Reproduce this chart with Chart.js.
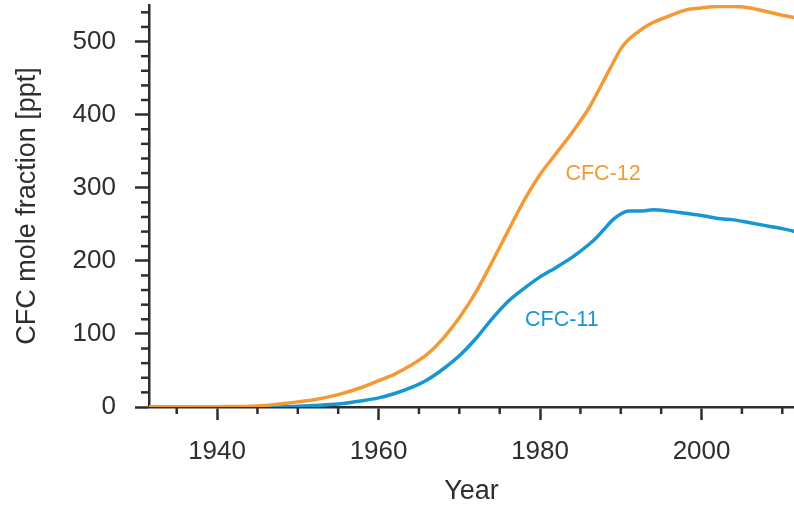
<!DOCTYPE html>
<html>
<head>
<meta charset="utf-8">
<title>CFC mole fraction</title>
<script src="https://cdn.jsdelivr.net/npm/chart.js@4.4.1/dist/chart.umd.min.js"></script>
<style>
  html, body { margin: 0; padding: 0; background: #fff; }
  #wrap { width: 794px; height: 508px; position: relative; }
</style>
</head>
<body>
<div id="wrap"><canvas id="cfcChart"></canvas></div>
<script>
// Annual mean mole fractions, ppt
const years = [1931, 1935, 1940, 1945, 1948, 1950, 1952, 1955, 1958, 1960,
  1962, 1964, 1966, 1968, 1970, 1972, 1974, 1976, 1978, 1980,
  1982, 1984, 1986, 1987, 1988, 1989, 1990, 1991, 1992, 1993,
  1994, 1996, 1998, 2000, 2002, 2004, 2006, 2008, 2010, 2012];

const cfc12 = [0, 0, 0.4, 1.5, 4.5, 7, 10, 17, 27, 36,
  45, 57, 72, 94, 122, 156, 197, 240, 282, 318,
  347, 376, 408, 428, 449, 470, 490, 503, 512, 520,
  526, 535, 543, 546, 548, 548, 546, 541, 536, 532];

const cfc11 = [0, 0, 0, 0.3, 0.6, 1, 2, 4, 8.5, 12.5,
  18.5, 26.5, 37, 52, 70, 93, 120, 144, 162, 178,
  191, 205, 222, 232, 244, 256, 264, 268, 268, 268.5,
  270, 268, 265, 262, 258, 256, 252, 248, 244, 239];

const seriesNames = ["CFC-12", "CFC-11"];
// where each series name is written, in data units [year, ppt]
const nameYears = [1987.8, 1982.7];
const nameValues = [319, 119];

const xMajor = [1940, 1960, 1980, 2000];
const yMajor = [0, 100, 200, 300, 400, 500];

const ORANGE = "rgb(243,154,52)";
const BLUE = "rgb(22,150,210)";
const INK = "#2e2e2e";
const FONT = "'Liberation Sans', Arial, Helvetica, sans-serif";

function points(values) {
  return years.map((yr, i) => ({ x: yr, y: values[i] }));
}

// short ticks for the in-between steps; long ones come from the scale itself
const minorTicks = {
  id: "minorTicks",
  afterDraw(chart) {
    const ctx = chart.ctx;
    ctx.save();
    ctx.strokeStyle = INK;
    ctx.lineWidth = 2.5;
    const xs = chart.scales.x;
    xs.ticks.forEach((t, i) => {
      if (xMajor.includes(t.value)) return;
      const px = xs.getPixelForTick(i);
      ctx.beginPath();
      ctx.moveTo(px, xs.top);
      ctx.lineTo(px, xs.top + 7);
      ctx.stroke();
    });
    const ys = chart.scales.y;
    ys.ticks.forEach((t, i) => {
      if (yMajor.includes(t.value)) return;
      const py = ys.getPixelForTick(i);
      ctx.beginPath();
      ctx.moveTo(ys.right, py);
      ctx.lineTo(ys.right - 8, py);
      ctx.stroke();
    });
    ctx.restore();
  },
};

// series names written next to their curves
const seriesLabels = {
  id: "seriesLabels",
  afterDatasetsDraw(chart) {
    const ctx = chart.ctx;
    const { x, y } = chart.scales;
    ctx.save();
    ctx.font = "21.5px " + FONT;
    ctx.textAlign = "center";
    ctx.textBaseline = "middle";
    seriesNames.forEach((name, i) => {
      ctx.fillStyle = chart.data.datasets[i].borderColor;
      ctx.fillText(name, x.getPixelForValue(nameYears[i]), y.getPixelForValue(nameValues[i]));
    });
    ctx.restore();
  },
};

new Chart(document.getElementById("cfcChart"), {
  type: "line",
  data: {
    datasets: [
      { label: seriesNames[0], data: points(cfc12), borderColor: ORANGE },
      { label: seriesNames[1], data: points(cfc11), borderColor: BLUE },
    ],
  },
  options: {
    responsive: true,
    maintainAspectRatio: false,
    animation: false,
    events: [],
    layout: { padding: { top: 5, right: 0, bottom: 0, left: 0 } },
    elements: {
      line: { borderWidth: 3.5, cubicInterpolationMode: "monotone", fill: false },
      point: { radius: 0 },
    },
    plugins: { legend: { display: false }, tooltip: { enabled: false } },
    scales: {
      x: {
        type: "linear",
        min: 1931.57,
        max: 2011.45,
        border: { color: INK, width: 2.5 },
        grid: {
          drawOnChartArea: false,
          tickLength: 13,
          tickWidth: 2.5,
          tickColor: (c) => (c.tick && xMajor.includes(c.tick.value) ? INK : "rgba(0,0,0,0)"),
        },
        ticks: {
          stepSize: 5,
          autoSkip: false,
          maxRotation: 0,
          minRotation: 0,
          includeBounds: false,
          padding: 16,
          color: INK,
          font: { family: FONT, size: 26 },
          callback: (v) => (xMajor.includes(v) ? String(v) : ""),
        },
        title: {
          display: true,
          text: "Year",
          color: INK,
          font: { family: FONT, size: 27 },
          padding: { top: 0, bottom: 0 },
        },
        afterFit(scale) {
          scale.height = 101;
          scale.paddingLeft = 0;
          scale.paddingRight = 0;
        },
      },
      y: {
        type: "linear",
        min: 0,
        max: 550,
        border: { color: INK, width: 2.5 },
        grid: {
          drawOnChartArea: false,
          tickLength: 14,
          tickWidth: 2.5,
          tickColor: (c) => (c.tick && yMajor.includes(c.tick.value) ? INK : "rgba(0,0,0,0)"),
        },
        ticks: {
          stepSize: 20,
          autoSkip: false,
          includeBounds: false,
          padding: 19,
          color: INK,
          font: { family: FONT, size: 26 },
          callback: (v) => (yMajor.includes(v) ? String(v) : ""),
        },
        title: {
          display: true,
          text: "CFC mole fraction [ppt]",
          color: INK,
          font: { family: FONT, size: 27 },
          padding: { top: 11, bottom: 0 },
        },
        afterFit(scale) {
          scale.width = 149;
          scale.paddingTop = 0;
          scale.paddingBottom = 0;
        },
      },
    },
  },
  plugins: [minorTicks, seriesLabels],
});
</script>
</body>
</html>
